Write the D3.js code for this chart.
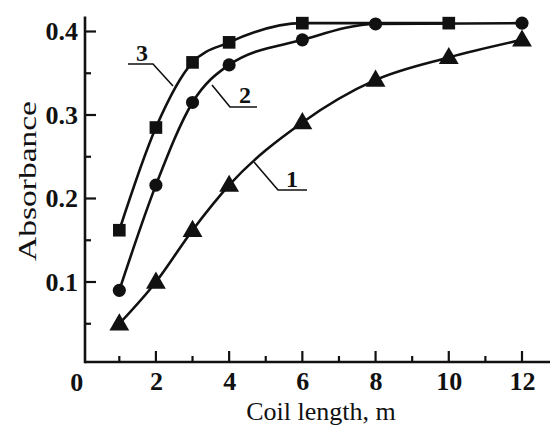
<!DOCTYPE html>
<html>
<head>
<meta charset="utf-8">
<script src="https://cdn.jsdelivr.net/npm/d3@7"></script>
<style>
  body { margin: 0; background: #fff; }
  svg text { font-family: "Liberation Serif", "Times New Roman", serif; fill: #111; }
</style>
</head>
<body>
<div id="chart"></div>
<script>
// coil length (m) and absorbance
var len1 = [1, 2, 3, 4, 6, 8, 10, 12];
var abs1 = [0.050, 0.100, 0.162, 0.216, 0.291, 0.342, 0.369, 0.390];
var len2 = [1, 2, 3, 4, 6, 8, 12];
var abs2 = [0.090, 0.216, 0.315, 0.360, 0.390, 0.409, 0.410];
var len3 = [1, 2, 3, 4, 6, 10];
var abs3 = [0.162, 0.285, 0.363, 0.387, 0.410, 0.410];
var xTicks = [2, 4, 6, 8, 10, 12];
var xMinor = [1, 3, 5, 7, 9, 11];
var yTicks = [0.1, 0.2, 0.3, 0.4];
var yMinor = [0.05, 0.15, 0.25, 0.35];

var W = 550, H = 429;

var x = d3.scaleLinear().domain([0, 12]).range([82.7, 522]);
var y = d3.scaleLinear().domain([0, 0.4]).range([365.5, 31.5]);

var svg = d3.select('#chart').append('svg')
	.attr('width', W)
	.attr('height', H);

var axisY0 = 362, axisX0 = 85;

// tick labels from d3 axes (tick lines drawn separately below)
svg.append('g')
	.attr('class', 'xaxis')
	.attr('transform', 'translate(0,' + axisY0 + ')')
	.call(d3.axisBottom(x).tickValues(xTicks).tickSize(0).tickPadding(10).tickFormat(d3.format('d')));
svg.append('g')
	.attr('class', 'yaxis')
	.attr('transform', 'translate(' + axisX0 + ',0)')
	.call(d3.axisLeft(y).tickValues(yTicks).tickSize(0).tickPadding(7).tickFormat(d3.format('.1f')));
svg.selectAll('.xaxis .domain, .yaxis .domain').remove();
svg.selectAll('.xaxis text, .yaxis text')
	.attr('font-weight', 'bold')
	.attr('font-size', 26)
	.attr('fill', '#111');

// inside ticks
var tickG = svg.append('g').attr('stroke', '#111').attr('stroke-width', 2.2);
tickG.selectAll('line.xt')
	.data(xTicks.map(function(v){ return [v, 11]; }).concat(xMinor.map(function(v){ return [v, 6]; })))
	.enter().append('line')
	.attr('class', 'xt')
	.attr('x1', function(d){ return x(d[0]); })
	.attr('x2', function(d){ return x(d[0]); })
	.attr('y1', axisY0)
	.attr('y2', function(d){ return axisY0 - d[1]; });
tickG.selectAll('line.yt')
	.data(yTicks.map(function(v){ return [v, 11]; }).concat(yMinor.map(function(v){ return [v, 6]; })))
	.enter().append('line')
	.attr('class', 'yt')
	.attr('x1', axisX0)
	.attr('x2', function(d){ return axisX0 + d[1]; })
	.attr('y1', function(d){ return y(d[0]); })
	.attr('y2', function(d){ return y(d[0]); });

svg.append('line')
	.attr('x1', axisX0).attr('x2', W)
	.attr('y1', axisY0).attr('y2', axisY0)
	.attr('stroke', '#111').attr('stroke-width', 2.6);
svg.append('line')
	.attr('x1', axisX0).attr('x2', axisX0)
	.attr('y1', axisY0 + 1.3).attr('y2', y(0.418))
	.attr('stroke', '#111').attr('stroke-width', 2.6);

// "0" at the origin
svg.append('text')
	.attr('x', x(0) - 6).attr('y', 391)
	.attr('text-anchor', 'middle')
	.attr('font-size', 26).attr('font-weight', 'bold')
	.text('0');

// axis titles
svg.append('text')
	.attr('x', 321).attr('y', 420)
	.attr('text-anchor', 'middle')
	.attr('font-size', 26)
	.text('Coil length, m');
svg.append('text')
	.attr('transform', 'translate(36,' + 181 + ') rotate(-90)')
	.attr('text-anchor', 'middle')
	.attr('font-size', 26)
	.attr('textLength', 160)
	.attr('lengthAdjust', 'spacingAndGlyphs')
	.text('Absorbance');

// curves
var series = [
	{ xs: len1, ys: abs1, mark: d3.symbolTriangle, size: 170 },
	{ xs: len2, ys: abs2, mark: d3.symbolCircle, size: 135 },
	{ xs: len3, ys: abs3, mark: d3.symbolSquare, size: 160 }
];

var line = d3.line()
	.x(function(d){ return x(d[0]); })
	.y(function(d){ return y(d[1]); })
	.curve(d3.curveMonotoneX);

series.forEach(function(s){
	var pts = s.xs.map(function(v, i){ return [v, s.ys[i]]; });
	svg.append('path')
		.attr('d', line(pts))
		.attr('fill', 'none')
		.attr('stroke', '#111')
		.attr('stroke-width', 2.6);
	svg.selectAll(null)
		.data(pts)
		.enter()
		.append('path')
		.attr('d', d3.symbol().type(s.mark).size(s.size))
		.attr('transform', function(d){ return 'translate(' + x(d[0]) + ',' + (y(d[1]) + (s.mark === d3.symbolTriangle ? 1 : 0)) + ')'; })
		.attr('fill', '#111');
});

// curve labels with leader lines
function label(txt, tx, ty, pts){
	svg.append('text')
		.attr('x', tx).attr('y', ty)
		.attr('text-anchor', 'middle')
		.attr('font-size', 24).attr('font-weight', 'bold')
		.text(txt);
	svg.append('polyline')
		.attr('points', pts.map(String).join(' '))
		.attr('fill', 'none')
		.attr('stroke', '#111')
		.attr('stroke-width', 1.6);
}
label('3', 142, 61, [[128, 64], [153, 64], [173, 86]]);
label('2', 245, 103, [[257, 107], [230, 107], [212, 85]]);
label('1', 292, 187, [[307, 190], [278, 190], [254, 162]]);
</script>
</body>
</html>
